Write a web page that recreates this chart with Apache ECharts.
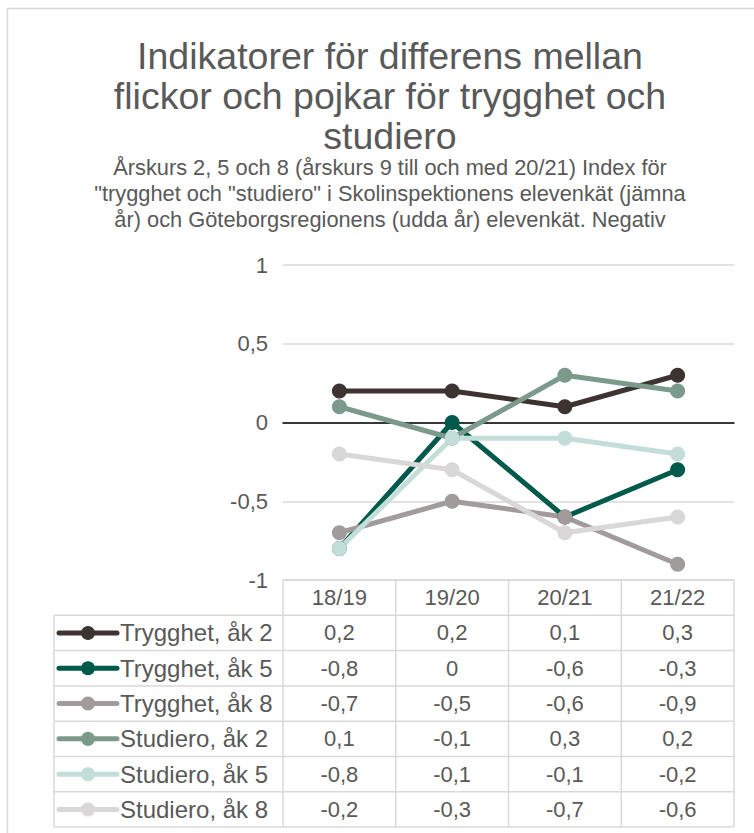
<!DOCTYPE html>
<html>
<head>
<meta charset="utf-8">
<script src="https://cdn.jsdelivr.net/npm/echarts@6/dist/echarts.min.js"></script>
<style>
  html, body { margin: 0; padding: 0; background: #fff; }
  #chart { width: 754px; height: 833px; }
</style>
</head>
<body>
<div id="chart"></div>
<script>
// data
const categories = ['18/19', '19/20', '20/21', '21/22']
const seriesNames = ['Trygghet, åk 2', 'Trygghet, åk 5', 'Trygghet, åk 8', 'Studiero, åk 2', 'Studiero, åk 5', 'Studiero, åk 8']
const trygghetAk2 = [0.2, 0.2, 0.1, 0.3]
const trygghetAk5 = [-0.8, 0, -0.6, -0.3]
const trygghetAk8 = [-0.7, -0.5, -0.6, -0.9]
const studieroAk2 = [0.1, -0.1, 0.3, 0.2]
const studieroAk5 = [-0.8, -0.1, -0.1, -0.2]
const studieroAk8 = [-0.2, -0.3, -0.7, -0.6]
const yMin = -1
const yMax = 1
const yStep = 0.5

const seriesData = [trygghetAk2, trygghetAk5, trygghetAk8, studieroAk2, studieroAk5, studieroAk8]
const colors = ['#3d3431', '#005a4b', '#a19c9b', '#7b9a8c', '#c3ddd8', '#d9d7d8']

const textColor = '#595959'
const gridColor = '#d9d9d9'
const font = '"Liberation Sans", Arial, sans-serif'

const fmt = v => String(v).replace('.', ',')

const chart = echarts.init(document.getElementById('chart'), null, { renderer: 'svg' })

const option = {
  animation: false,
  textStyle: { fontFamily: font },
  title: [
    {
      text: 'Indikatorer för differens mellan\nflickor och pojkar för trygghet och\nstudiero',
      left: 385,
      top: 31,
      textAlign: 'center',
      textStyle: { color: textColor, fontSize: 37.5, fontWeight: 'normal', lineHeight: 40, fontFamily: font },
    },
    {
      text: 'Årskurs 2, 5 och 8 (årskurs 9 till och med 20/21) Index för\n"trygghet och "studiero" i Skolinspektionens elevenkät (jämna\når) och Göteborgsregionens (udda år) elevenkät. Negativ',
      left: 385,
      top: 149,
      textAlign: 'center',
      textStyle: { color: textColor, fontSize: 21.8, fontWeight: 'normal', lineHeight: 26, fontFamily: font },
    },
  ],
  grid: { left: 283, right: 20, top: 265, bottom: 253, containLabel: false },
  xAxis: {
    type: 'category',
    data: categories,
    boundaryGap: true,
    axisLine: { show: true, onZero: true, lineStyle: { color: '#000', width: 1.5 } },
    axisTick: { show: false },
    axisLabel: { show: false },
    splitLine: { show: false },
  },
  yAxis: {
    type: 'value',
    min: yMin,
    max: yMax,
    interval: yStep,
    axisLine: { show: false },
    axisTick: { show: false },
    axisLabel: { color: textColor, fontSize: 22, margin: 15, formatter: v => fmt(v), fontFamily: font },
    splitLine: { show: true, lineStyle: { color: gridColor, width: 1.5 } },
  },
  series: seriesNames.map((name, i) => ({
    name: name,
    type: 'line',
    data: seriesData[i],
    symbol: 'circle',
    symbolSize: 15,
    lineStyle: { color: colors[i], width: 5 },
    itemStyle: { color: colors[i] },
    emphasis: { disabled: true },
  })),
}
chart.setOption(option)

// data table under the plot, built from the same arrays
const colX = categories.map((c, i) => chart.convertToPixel({ xAxisIndex: 0 }, i))
const colW = colX[1] - colX[0]
const tableLeft = 54
const plotLeft = colX[0] - colW / 2
const plotRight = colX[colX.length - 1] + colW / 2
const tableTop = chart.convertToPixel({ yAxisIndex: 0 }, yMin)
const rowH = 35.3
const nRows = seriesNames.length + 1
const tableBottom = tableTop + rowH * nRows

const lineStyle = { stroke: gridColor, lineWidth: 1.5 }
const g = []

// outer chart border
g.push({ type: 'rect', shape: { x: 7.5, y: 8.5, width: 900, height: 900 }, style: { fill: null, stroke: gridColor, lineWidth: 1.5 }, silent: true })

// horizontal rules
for (let r = 0; r <= nRows; r++) {
  const y = tableTop + r * rowH
  g.push({ type: 'line', shape: { x1: r === 0 ? plotLeft : tableLeft, y1: y, x2: plotRight, y2: y }, style: lineStyle, silent: true })
}
// vertical rules
g.push({ type: 'line', shape: { x1: tableLeft, y1: tableTop + rowH, x2: tableLeft, y2: tableBottom }, style: lineStyle, silent: true })
for (let c = 0; c <= categories.length; c++) {
  const x = plotLeft + c * colW
  g.push({ type: 'line', shape: { x1: x, y1: tableTop, x2: x, y2: tableBottom }, style: lineStyle, silent: true })
}
// header
categories.forEach((c, i) => {
  g.push({
    type: 'text', x: colX[i], y: tableTop + rowH / 2,
    style: { text: c, fill: textColor, font: '22px ' + font, textAlign: 'center', textVerticalAlign: 'middle' },
    silent: true,
  })
})
// rows
seriesNames.forEach((name, r) => {
  const yc = tableTop + (r + 1.5) * rowH
  g.push({ type: 'line', shape: { x1: 59, y1: yc, x2: 117, y2: yc }, style: { stroke: colors[r], lineWidth: 5, lineCap: 'round' }, silent: true })
  g.push({ type: 'circle', shape: { cx: 88, cy: yc, r: 7 }, style: { fill: colors[r] }, silent: true })
  g.push({
    type: 'text', x: 120, y: yc,
    style: { text: name, fill: textColor, font: '24px ' + font, textAlign: 'left', textVerticalAlign: 'middle' },
    silent: true,
  })
  seriesData[r].forEach((v, i) => {
    g.push({
      type: 'text', x: colX[i], y: yc,
      style: { text: fmt(v), fill: textColor, font: '22px ' + font, textAlign: 'center', textVerticalAlign: 'middle' },
      silent: true,
    })
  })
})

chart.setOption({ graphic: { elements: g } })
</script>
</body>
</html>
